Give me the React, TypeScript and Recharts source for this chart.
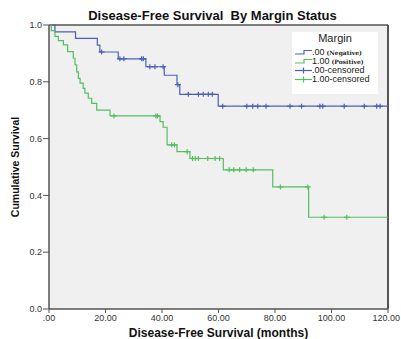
import React from "react";
import {
  ComposedChart,
  Line,
  Scatter,
  XAxis,
  YAxis,
  CartesianGrid,
  ReferenceLine,
  Legend,
} from "recharts";

// Kaplan-Meier steps (months, cumulative survival)
const negTimes = [0, 2.1, 9.4, 17.1, 18.0, 24.5, 34.3, 40.8, 45.3, 46.3, 59.9];
const negSurv = [1.0, 0.976, 0.953, 0.929, 0.905, 0.881, 0.853, 0.823, 0.79, 0.756, 0.714];
const negCensored = [
  18.6, 25.1, 26.5, 32.8, 33.4, 35.7, 37.5, 40.4, 45.6, 49.3, 52.9, 54.6, 56.4,
  57.8, 61.5, 70.0, 72.1, 73.9, 76.8, 85.3, 89.4, 95.9, 96.9, 104.5, 111.6,
  116.0, 117.2,
];

const posTimes = [
  0, 0.8, 2.1, 3.3, 5.1, 6.6, 8.6, 9.2, 9.8, 10.4, 11.0, 12.1, 12.7, 13.9, 15.1,
  16.9, 21.6, 39.3, 40.4, 41.8, 45.3, 49.9, 61.7, 79.2, 91.9,
];
const posSurv = [
  1.0, 0.98, 0.96, 0.945, 0.93, 0.906, 0.883, 0.86, 0.835, 0.812, 0.795, 0.777,
  0.76, 0.742, 0.724, 0.7, 0.68, 0.66, 0.64, 0.578, 0.554, 0.53, 0.49, 0.43,
  0.323,
];
const posCensored = [
  23.0, 37.8, 38.4, 43.4, 44.4, 48.9, 50.8, 51.8, 52.9, 56.2, 58.8, 60.4, 63.8,
  65.4, 67.5, 69.8, 72.3, 81.9, 91.6, 97.4, 105.4,
];

const followUpEnd = 120;
const xTicks = [0, 20, 40, 60, 80, 100, 120];
const yTicks = [0, 0.2, 0.4, 0.6, 0.8, 1.0];

const BLUE = "#4a60b8";
const GREEN = "#55bf60";
const FONT = "'Liberation Sans', Arial, sans-serif";

const stepData = (times: number[], surv: number[]) =>
  times
    .map((t, i) => ({ t, s: surv[i] }))
    .concat({ t: followUpEnd, s: surv[surv.length - 1] });

// censored cases sit on the curve value at their time
const censorData = (times: number[], surv: number[], censored: number[]) =>
  censored.map((t) => {
    let s = surv[0];
    times.forEach((tt, i) => {
      if (tt <= t) s = surv[i];
    });
    return { t, s };
  });

const negLine = stepData(negTimes, negSurv);
const posLine = stepData(posTimes, posSurv);
const negCens = censorData(negTimes, negSurv, negCensored);
const posCens = censorData(posTimes, posSurv, posCensored);

const plus = (color: string) => (props: any) => {
  const { cx, cy } = props;
  return (
    <g>
      <line x1={cx} x2={cx} y1={cy - 2.5} y2={cy + 2.5} stroke={color} strokeWidth={1.2} />
      <line x1={cx - 3} x2={cx + 3} y1={cy} y2={cy} stroke={color} strokeWidth={1.2} />
    </g>
  );
};

const XTick = (props: any) => {
  const { x, y, payload } = props;
  const v = payload.value;
  const label = v === 0 ? ".00" : v.toFixed(2);
  const last = v === followUpEnd;
  return (
    <text
      x={last ? 400 : x}
      y={y}
      dy="0.71em"
      textAnchor={last ? "end" : "middle"}
      fontSize={9}
      fontFamily={FONT}
      fill="#333"
    >
      {label}
    </text>
  );
};

const YLabel = (props: any) => {
  const { viewBox } = props;
  const cy = viewBox.y + viewBox.height / 2;
  return (
    <text
      x={15}
      y={cy}
      transform={`rotate(-90, 15, ${cy})`}
      textAnchor="middle"
      dominantBaseline="central"
      fontSize={10.5}
      fontWeight="bold"
      fontFamily={FONT}
      fill="#111"
    >
      Cumulative Survival
    </text>
  );
};

const legendRows = [
  { main: ".00", sub: "(Negative)", color: BLUE, kind: "step" },
  { main: "1.00", sub: "(Positive)", color: GREEN, kind: "step" },
  { main: ".00-censored", sub: "", color: BLUE, kind: "cens" },
  { main: "1.00-censored", sub: "", color: GREEN, kind: "cens" },
];

const renderLegend = () => (
  <div
    style={{
      background: "#fff",
      width: 86,
      height: 62,
      fontFamily: FONT,
      color: "#222",
    }}
  >
    <div style={{ textAlign: "center", fontSize: 11, lineHeight: "12px", height: 12, marginBottom: 4 }}>
      Margin
    </div>
    {legendRows.map((r) => (
      <div key={r.main} style={{ display: "flex", alignItems: "center", height: 9, paddingLeft: 2 }}>
        <svg width={18} height={9}>
          {r.kind === "step" ? (
            <path d="M1,6 H10 V2.5 H18" fill="none" stroke={r.color} strokeWidth={1.2} />
          ) : (
            <g>
              <line x1={1} x2={18} y1={4.5} y2={4.5} stroke={r.color} strokeWidth={1.2} />
              <line x1={9.5} x2={9.5} y1={1.5} y2={7.5} stroke={r.color} strokeWidth={1.2} />
            </g>
          )}
        </svg>
        <span style={{ fontSize: 9, lineHeight: "9px", whiteSpace: "nowrap" }}>
          {r.main}
          {r.sub && (
            <span
              style={{
                fontFamily: "'DejaVu Serif', serif",
                fontWeight: "bold",
                fontSize: 6,
                marginLeft: 2,
              }}
            >
              {r.sub}
            </span>
          )}
        </span>
      </div>
    ))}
  </div>
);

export default function App() {
  return (
    <div
      style={{
        position: "absolute",
        left: 0,
        top: 0,
        width: 401,
        height: 339,
        background: "#fff",
      }}
    >
      <div
        style={{
          position: "absolute",
          left: 0,
          top: 8,
          width: 425,
          textAlign: "center",
          fontFamily: FONT,
          fontWeight: "bold",
          fontSize: 13,
          lineHeight: "15px",
          color: "#111",
          whiteSpace: "pre",
        }}
      >
        {"Disease-Free Survival  By Margin Status"}
      </div>
      <ComposedChart
        width={401}
        height={339}
        margin={{ top: 25, right: 13, bottom: 0, left: 19 }}
      >
        <CartesianGrid horizontal={false} vertical={false} fill="#f0f0f0" />
        <XAxis
          type="number"
          dataKey="t"
          domain={[0, followUpEnd]}
          ticks={xTicks}
          height={30}
          tickSize={4}
          tickMargin={2}
          tick={<XTick />}
          stroke="#555"
          axisLine={{ stroke: "#555", strokeWidth: 1.5 }}
          label={{
            value: "Disease-Free Survival (months)",
            position: "insideBottom",
            offset: 2,
            fontSize: 12,
            fontWeight: "bold",
            fontFamily: FONT,
            fill: "#111",
          }}
        />
        <YAxis
          type="number"
          domain={[0, 1]}
          ticks={yTicks}
          width={30}
          tickSize={6}
          tickMargin={1}
          tickFormatter={(v: number) => v.toFixed(1)}
          tick={{ fontSize: 9, fontFamily: FONT, fill: "#333" }}
          stroke="#555"
          axisLine={{ stroke: "#555", strokeWidth: 1.5 }}
          label={<YLabel />}
        />
        <ReferenceLine y={1} stroke="#555" strokeWidth={1.5} />
        <ReferenceLine x={followUpEnd} stroke="#555" strokeWidth={2} />
        <Line
          data={negLine}
          dataKey="s"
          type="stepAfter"
          stroke={BLUE}
          strokeWidth={1.2}
          dot={false}
          isAnimationActive={false}
        />
        <Line
          data={posLine}
          dataKey="s"
          type="stepAfter"
          stroke={GREEN}
          strokeWidth={1.2}
          dot={false}
          isAnimationActive={false}
        />
        <Scatter data={negCens} dataKey="s" shape={plus(BLUE)} isAnimationActive={false} />
        <Scatter data={posCens} dataKey="s" shape={plus(GREEN)} isAnimationActive={false} />
        <Legend
          layout="vertical"
          align="center"
          verticalAlign="middle"
          content={renderLegend}
          wrapperStyle={{ left: 292, top: 32, width: 86, height: 62 }}
        />
      </ComposedChart>
    </div>
  );
}
